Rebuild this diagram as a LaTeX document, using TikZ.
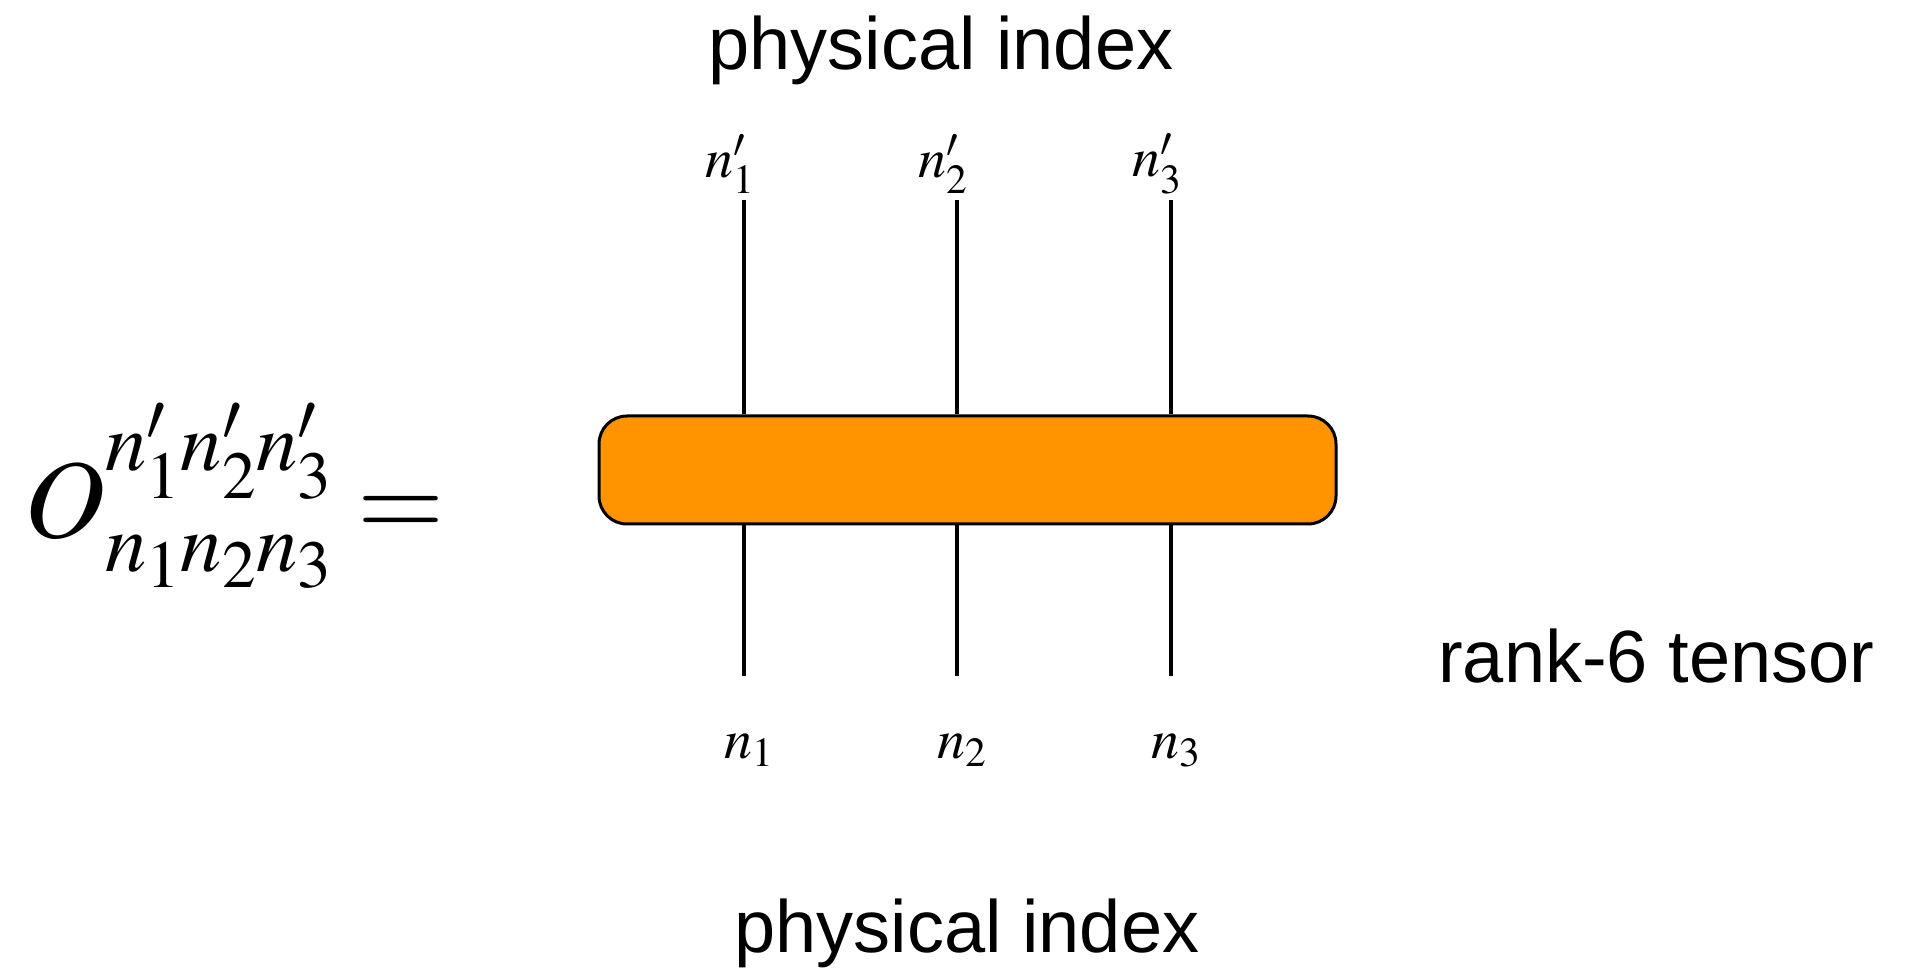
\documentclass[tikz,border=0pt]{standalone}
\usepackage{mathptmx}
\usepackage[no-math]{fontspec}
\newfontfamily\helv{Liberation Sans}
\usetikzlibrary{positioning}
\definecolor{tensororange}{HTML}{FF9400}

\begin{document}
\begin{tikzpicture}[x=1pt,y=1pt,
  leg/.style={line width=4pt},
  idx/.style={inner sep=0pt,font=\fontsize{56}{60}\selectfont},
  lbl/.style={inner sep=0pt,anchor=base,font=\helv\fontsize{74}{80}\selectfont}]
\useasboundingbox (0,0) rectangle (1918,970);
\node[draw,line width=3pt,fill=tensororange,rounded corners=28pt,minimum width=737pt,minimum height=108pt] (T) at (967.5,500) {};
\foreach \i/\x in {1/744,2/957,3/1171}{
  \coordinate (u\i) at (\x,770); \coordinate (d\i) at (\x,294);
  \draw[leg] (u\i)--(u\i|-T.north); \draw[leg] (d\i)--(d\i|-T.south);
  \node[idx,above=6pt of u\i,xshift=-14pt] (nu\i) {$n_\i'$};
  \node[idx,below=58pt of d\i,xshift=5pt] (nd\i) {$n_\i$};}
\node[lbl] (phystop) at (941,900) {physical index};
\node[lbl] (physbot) at (967,18) {physical index};
\node[lbl,anchor=base west] (rank) at (1438,288) {rank-6 tensor};
\node[anchor=base west,inner sep=0pt,font=\fontsize{112}{120}\selectfont] (eq) at (24,432) {$O^{n_1'n_2'n_3'}_{\rule{0pt}{54pt}n_1n_2n_3}=$};
\end{tikzpicture}
\end{document}
